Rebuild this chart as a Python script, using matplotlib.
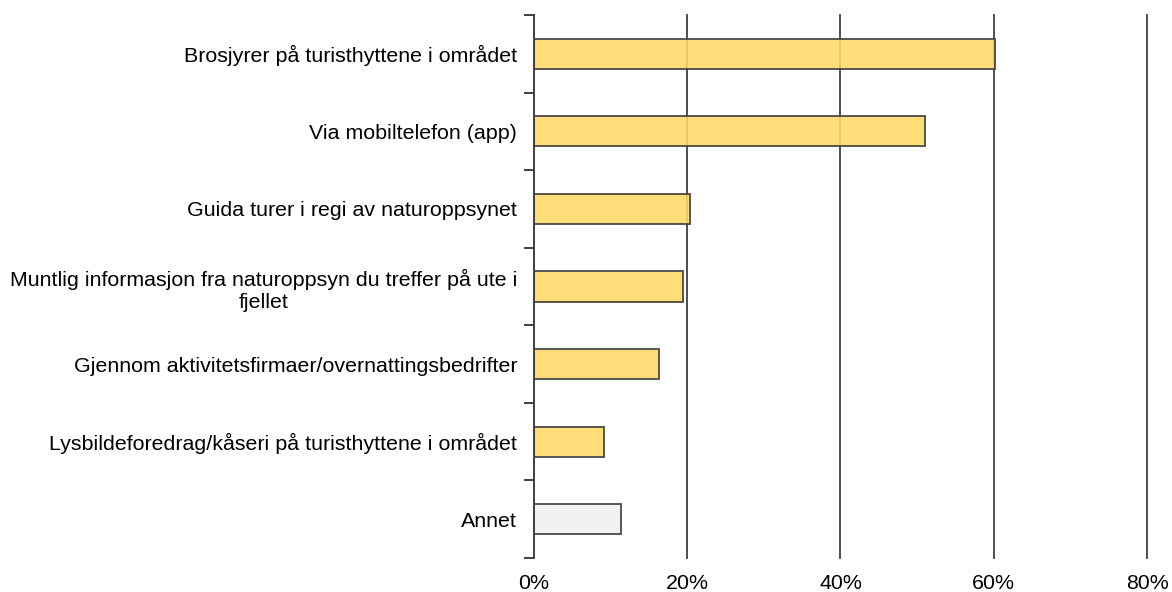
import numpy as np
import matplotlib.pyplot as plt
from matplotlib.ticker import FixedLocator, PercentFormatter

plt.rcParams['font.family'] = ['Liberation Sans', 'DejaVu Sans']

categories = [
    'Brosjyrer på turisthyttene i området',
    'Via mobiltelefon (app)',
    'Guida turer i regi av naturoppsynet',
    'Muntlig informasjon fra naturoppsyn du treffer på ute i\nfjellet',
    'Gjennom aktivitetsfirmaer/overnattingsbedrifter',
    'Lysbildeforedrag/kåseri på turisthyttene i området',
    'Annet',
]
shares = [60.2, 51.0, 20.4, 19.4, 16.3, 9.2, 11.3]
bar_colors = ['#FFD966'] * 6 + ['#F0F0F0']

fig = plt.figure(figsize=(11.72, 5.92), dpi=100)
ax = fig.add_axes([0.4556, 0.0574, 0.5231, 0.9173])

y = np.arange(len(categories))
ax.barh(y, shares, height=0.39, color=bar_colors, alpha=0.88,
        edgecolor='#404040', linewidth=1.4, zorder=3)

ax.set_xlim(0, 80)
ax.set_ylim(len(categories) - 0.5, -0.5)

# vertical grid lines at each 20%
for xv in [20, 40, 60, 80]:
    ax.axvline(xv, color='#404040', linewidth=1.3, zorder=1, clip_on=False)

ax.set_xticks([0, 20, 40, 60, 80])
ax.xaxis.set_major_formatter(PercentFormatter(decimals=0))
ax.tick_params(axis='x', length=0, pad=11.5, labelsize=15.4)

ax.set_yticks(y)
ax.set_yticklabels(categories, multialignment='center', linespacing=1.25)
ax.tick_params(axis='y', which='major', length=0, pad=12, labelsize=15.4)
ax.yaxis.set_minor_locator(FixedLocator(np.arange(-0.5, len(categories), 1)))
ax.tick_params(axis='y', which='minor', length=7, width=1.4, color='#404040')

for side in ['top', 'right', 'bottom']:
    ax.spines[side].set_visible(False)
ax.spines['left'].set_color('#404040')
ax.spines['left'].set_linewidth(1.4)
ax.spines['left'].set_zorder(4)

fig.savefig('out.png', dpi=100)
